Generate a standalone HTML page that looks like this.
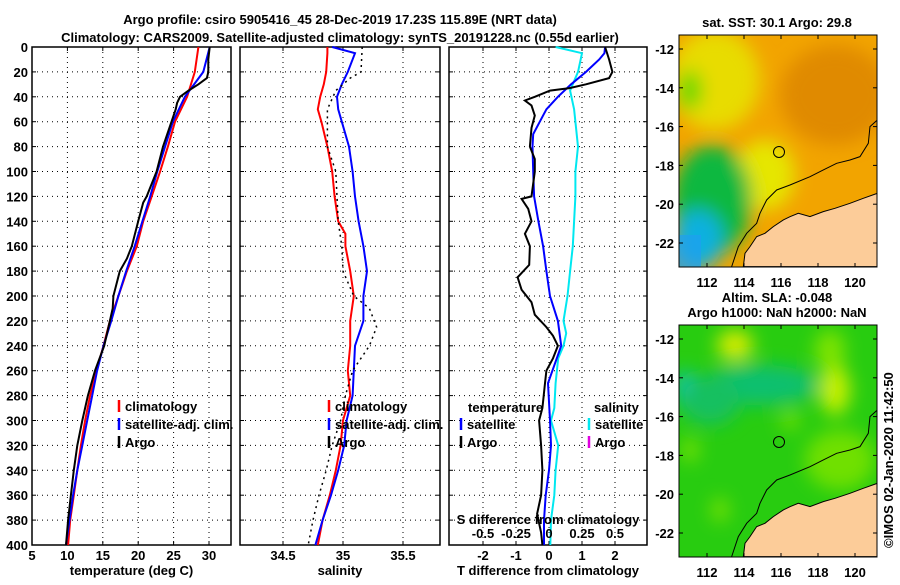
<!DOCTYPE html>
<html><head><meta charset="utf-8"><style>
body{margin:0;background:#fff}
svg text{font-family:"Liberation Sans",sans-serif;font-weight:bold;font-size:13px;fill:#000}
</style></head><body>
<svg id="c" width="900" height="580" xmlns="http://www.w3.org/2000/svg">
<defs>
<clipPath id="m1"><rect x="679" y="35" width="198" height="232"/></clipPath>
<clipPath id="m2"><rect x="679" y="325" width="198" height="232"/></clipPath>
<filter id="bl" x="-50%" y="-50%" width="200%" height="200%"><feGaussianBlur stdDeviation="9"/></filter>
</defs>
<text x="340" y="24" text-anchor="middle" font-size="14">Argo profile: csiro 5905416_45 28-Dec-2019 17.23S 115.89E (NRT data)</text>
<text x="340" y="42" text-anchor="middle" font-size="14">Climatology: CARS2009. Satellite-adjusted climatology: synTS_20191228.nc (0.55d earlier)</text>

<g>
<g clip-path="url(#m1)">
<rect x="679" y="35" width="198" height="232" fill="#f2a400"/>
<g filter="url(#bl)">
<ellipse cx="835" cy="95" rx="55" ry="50" fill="#e08a00"/>
<ellipse cx="715" cy="80" rx="45" ry="50" fill="#e8dc00"/>
<ellipse cx="765" cy="175" rx="30" ry="35" fill="#e6e600"/>
<ellipse cx="690" cy="90" rx="12" ry="20" fill="#60d800"/>
<ellipse cx="712" cy="200" rx="40" ry="55" fill="#10b840"/>
<ellipse cx="698" cy="240" rx="25" ry="30" fill="#10b0e0"/>
</g>
<rect x="679" y="235" width="22" height="32" fill="#20a0f0" opacity="0.7"/>
<g transform="translate(650,0) scale(0.3333)">
<polygon points="682,580 640,595 600,610 555,625 520,635 480,650 445,640 420,650 400,660 370,680 345,700 320,710 300,740 285,760 280,800 682,800" fill="#fccc99" stroke="#000" stroke-width="3"/>
<polyline points="682,360 660,380 655,430 630,470 600,480 560,490 520,510 480,530 420,555 380,570 350,600 330,640 320,670 290,700 265,740 245,800" fill="none" stroke="#000" stroke-width="3"/>
</g>
</g>
<circle cx="779" cy="152" r="5.5" fill="none" stroke="#000"/>
<rect x="679" y="35" width="198" height="232" fill="none" stroke="#000"/>
<text x="777" y="27" text-anchor="middle">sat. SST: 30.1 Argo: 29.8</text>
<g id="ax1"></g>
</g>

<g>
<g clip-path="url(#m2)">
<rect x="679" y="325" width="198" height="232" fill="#28cc10"/>
<g filter="url(#bl)">
<ellipse cx="760" cy="385" rx="60" ry="20" fill="#10c070"/>
<ellipse cx="735" cy="345" rx="18" ry="15" fill="#d8ec00"/>
<ellipse cx="835" cy="390" rx="15" ry="25" fill="#c8f000"/>
<ellipse cx="684" cy="390" rx="8" ry="20" fill="#10c0d0"/>
<ellipse cx="710" cy="400" rx="30" ry="25" fill="#18c060"/>
<ellipse cx="840" cy="460" rx="35" ry="30" fill="#70e000"/>
<ellipse cx="790" cy="420" rx="10" ry="10" fill="#70e000"/>
<ellipse cx="830" cy="350" rx="15" ry="20" fill="#80e400"/>
<ellipse cx="690" cy="450" rx="8" ry="12" fill="#80e400"/>
<ellipse cx="720" cy="510" rx="8" ry="12" fill="#80e400"/>
</g>
<g transform="translate(650,290) scale(0.3333)">
<polygon points="682,580 640,595 600,610 555,625 520,635 480,650 445,640 420,650 400,660 370,680 345,700 320,710 300,740 285,760 280,800 682,800" fill="#fccc99" stroke="#000" stroke-width="3"/>
<polyline points="682,360 660,380 655,430 630,470 600,480 560,490 520,510 480,530 420,555 380,570 350,600 330,640 320,670 290,700 265,740 245,800" fill="none" stroke="#000" stroke-width="3"/>
</g>
</g>
<circle cx="779" cy="442" r="5.5" fill="none" stroke="#000"/>
<rect x="679" y="325" width="198" height="232" fill="none" stroke="#000"/>
<text x="777" y="302" text-anchor="middle">Altim. SLA: -0.048</text>
<text x="777" y="317" text-anchor="middle">Argo h1000: NaN h2000: NaN</text>
<g id="ax2"></g>
</g>
<text transform="translate(893,548) rotate(-90)" font-weight="normal" font-size="12">©IMOS 02-Jan-2020 11:42:50</text>
<g id="plots"></g>
</svg>
<script>
const depths=[0,20,40,60,80,100,120,140,160,180,200,220,240,260,280,300,320,340,360,380,400];
const tempClim=[28.5,28.0,26.9,25.2,24.2,23.1,21.9,20.7,19.8,18.4,17.2,16.0,15.1,14.1,13.2,12.5,11.9,11.4,10.9,10.4,10.1];
const tempSat=[30.1,29.2,26.6,24.9,23.8,22.7,21.7,20.6,19.5,18.3,17.2,16.2,15.1,14.2,13.5,12.8,12.1,11.4,10.8,10.3,9.8];
const argoDepths=[0,10,20,25,30,35,40,45,50,60,80,100,120,125,140,160,170,180,200,210,220,240,260,280,300,320,340,360,380,400];
const tempArgo=[30.1,29.9,29.9,29.7,28.5,27.1,25.9,25.5,25.3,24.7,23.5,22.6,21.2,20.7,20.0,19.1,18.4,17.4,16.5,16.4,16.0,15.2,13.9,12.9,12.1,11.4,10.9,10.5,10.1,9.8];
const salDepths=[0,5,20,30,40,50,60,80,100,120,140,150,160,180,200,220,240,260,280,300,320,340,360,380,400];
const salClim=[34.87,34.87,34.86,34.84,34.81,34.79,34.82,34.87,34.91,34.93,34.96,35.02,35.02,35.06,35.09,35.06,35.06,35.04,35.06,35.0,34.98,34.94,34.89,34.83,34.79];
const salSat=[34.91,35.1,35.04,34.99,34.95,34.96,34.99,35.05,35.08,35.1,35.13,35.15,35.17,35.2,35.17,35.17,35.1,35.09,35.08,35.03,35.01,34.96,34.9,34.83,34.77];
const salArgoDepths=[0,20,25,35,50,80,100,120,140,160,180,200,210,225,240,260,280,300,320,340,360,380,400];
const salArgo=[35.16,35.15,35.06,34.94,34.87,34.87,34.94,34.95,34.96,34.99,35.0,35.09,35.22,35.28,35.22,35.08,35.02,34.98,34.91,34.86,34.8,34.75,34.71];
const dTSatDepths=[0,5,10,20,30,40,50,60,70,80,100,120,140,160,180,200,220,240,270,300,320,340,360,380,400];
const dTSat=[1.7,1.68,1.52,1.12,0.67,0.27,-0.08,-0.28,-0.48,-0.5,-0.48,-0.45,-0.32,-0.18,-0.08,0.03,0.27,0.37,-0.03,0.03,0.06,0,-0.1,-0.15,-0.15];
const dTArgoDepths=[0,10,20,25,30,33,35,40,43,47,55,65,80,90,100,120,122,130,140,150,160,175,185,195,205,215,225,232,240,250,260,270,290,300,320,340,360,375,390,400];
const dTArgo=[1.7,1.82,1.92,1.82,1.12,0.62,0.03,-0.43,-0.73,-0.53,-0.43,-0.53,-0.58,-0.43,-0.43,-0.53,-0.83,-0.63,-0.53,-0.73,-0.58,-0.6,-0.95,-0.83,-0.53,-0.43,-0.08,0.12,0.27,0.12,-0.08,-0.12,-0.2,-0.3,-0.24,-0.2,-0.24,-0.36,-0.24,-0.2];
const dSSatDepths=[0,5,20,35,50,80,100,120,140,160,180,200,220,230,240,250,270,290,300,320,340,360,380,400];
const dSSat=[0.05,0.25,0.22,0.16,0.19,0.22,0.2,0.2,0.19,0.18,0.16,0.14,0.11,0.13,0.11,0.07,0.05,0.04,0.015,0.07,0.05,0.04,0.015,0.01];
const depthTicks=[0,20,40,60,80,100,120,140,160,180,200,220,240,260,280,300,320,340,360,380,400];
const tempTicks=[5,10,15,20,25,30];
const salTicks=[34.5,35,35.5];
const dTTicks=[-2,-1,0,1,2];
const dSTicks=[-0.5,-0.25,0,0.25,0.5];
const latTicks=[-12,-14,-16,-18,-20,-22];
const lonTicks=[112,114,116,118,120];

const NS='http://www.w3.org/2000/svg';
const plots=document.getElementById('plots');
function mk(tag,at,parent){const e=document.createElementNS(NS,tag);for(const k in at)e.setAttribute(k,at[k]);(parent||plots).appendChild(e);return e;}
const Y0=47,Y1=545;
const yD=d=>Y0+(d/400)*(Y1-Y0);
const xT=v=>32+(v-5)*7.08;
const xS=v=>283+(v-34.5)*120;
const xDT=v=>549+v*33;
const xDS=v=>549+v*132;

function panel(name,x0,x1,xs,ticks,labelFn,gridTicks,title,showDepth){
  const g=mk('g',{});
  
  
  depthTicks.forEach(d=>{
    if(d>0&&d<400) mk('line',{x1:x0,x2:x1,y1:yD(d),y2:yD(d),stroke:'#000','stroke-width':1,'stroke-dasharray':'1,4'},g);
    mk('line',{x1:x0,x2:x0+4,y1:yD(d),y2:yD(d),stroke:'#000'},g);
    mk('line',{x1:x1-4,x2:x1,y1:yD(d),y2:yD(d),stroke:'#000'},g);
    if(showDepth){const t=mk('text',{x:x0-4,y:yD(d)+5,'text-anchor':'end'},g);t.textContent=d;
      
      }
  });
  gridTicks.forEach(v=>{const x=xs(v);
    mk('line',{x1:x,x2:x,y1:Y0,y2:Y1,stroke:'#000','stroke-dasharray':'1,4'},g);});
  ticks.forEach(v=>{const x=xs(v);
    mk('line',{x1:x,x2:x,y1:Y1-4,y2:Y1,stroke:'#000'},g);
    mk('line',{x1:x,x2:x,y1:Y0,y2:Y0+4,stroke:'#000'},g);
    const t=mk('text',{x:x,y:560,'text-anchor':'middle'},g);t.textContent=labelFn(v);
    
    });
  mk('rect',{x:x0,y:Y0,width:x1-x0,height:Y1-Y0,fill:'none',stroke:'#000','stroke-width':1.5},g);
  const tt=mk('text',{x:(x0+x1)/2,y:575,'text-anchor':'middle'},g);tt.textContent=title;
  
  
  return g;
}
function line(g,ds,vs,xs,color,name,dash){
  const p=mk('polyline',{points:ds.map((d,i)=>xs(vs[i]).toFixed(1)+','+yD(d).toFixed(1)).join(' '),fill:'none',stroke:color,'stroke-width':dash?1.5:2,'stroke-dasharray':dash||'none'},g);
  
  
}
function legend(g,x,y,color,label){
  mk('line',{x1:x,x2:x,y1:y-11,y2:y+1,stroke:color,'stroke-width':2.5},g);
  const t=mk('text',{x:x+6,y:y,'font-size':12},g);t.textContent=label;
  
  
}
const g1=panel('temperature-panel',32,231,xT,tempTicks,v=>v,[10,15,20,25,30],'temperature (deg C)',true);
line(g1,depths,tempClim,xT,'#f00','temp-climatology-line');
line(g1,depths,tempSat,xT,'#00f','temp-satellite-line');
line(g1,argoDepths,tempArgo,xT,'#000','temp-argo-line');
legend(g1,119,411,'#f00','climatology');legend(g1,119,429,'#00f','satellite-adj. clim.');legend(g1,119,447,'#000','Argo');

const g2=panel('salinity-panel',240,440,xS,salTicks,v=>v,salTicks,'salinity',false);
line(g2,salDepths,salClim,xS,'#f00','sal-climatology-line');
line(g2,salDepths,salSat,xS,'#00f','sal-satellite-line');
line(g2,salArgoDepths,salArgo,xS,'#000','sal-argo-line','2,4');
legend(g2,329,411,'#f00','climatology');legend(g2,329,429,'#00f','satellite-adj. clim.');legend(g2,329,447,'#000','Argo');

const g3=panel('difference-panel',449,647,xDT,dTTicks,v=>v,dTTicks,'T difference from climatology',false);
line(g3,dSSatDepths,dSSat,xDS,'#00e8f0','sal-diff-satellite-line');
line(g3,dTSatDepths,dTSat,xDT,'#00f','temp-diff-satellite-line');
line(g3,dTArgoDepths,dTArgo,xDT,'#000','temp-diff-argo-line');
{const t=mk('text',{x:468,y:412,'font-size':12},g3);t.textContent='temperature';

}
{const t=mk('text',{x:594,y:412,'font-size':12},g3);t.textContent='salinity';

}
legend(g3,461,429,'#00f','satellite');legend(g3,461,447,'#000','Argo');
legend(g3,589,429,'#00e8f0','satellite');legend(g3,589,447,'#e000e0','Argo');
{const t=mk('text',{x:548,y:524,'text-anchor':'middle'},g3);t.textContent='S difference from climatology';

}
dSTicks.forEach(v=>{const t=mk('text',{x:xDS(v),y:538,'text-anchor':'middle'},g3);t.textContent=v===0?'0':v;

});

function mapAxes(id,top){
  const g=document.getElementById(id);
  latTicks.forEach(v=>{const y=top+14+(-12-v)*19.4;
    mk('line',{x1:679,x2:683,y1:y,y2:y,stroke:'#000'},g);mk('line',{x1:873,x2:877,y1:y,y2:y,stroke:'#000'},g);
    const t=mk('text',{x:674,y:y+5,'text-anchor':'end'},g);t.textContent=v;
    
    });
  lonTicks.forEach(v=>{const x=707+(v-112)*18.5;
    mk('line',{x1:x,x2:x,y1:top,y2:top+4,stroke:'#000'},g);mk('line',{x1:x,x2:x,y1:top+228,y2:top+232,stroke:'#000'},g);
    const t=mk('text',{x:x,y:top+252,'text-anchor':'middle'},g);t.textContent=v;
    
    });
}
mapAxes('ax1',35);mapAxes('ax2',325);
</script>
</body></html>
